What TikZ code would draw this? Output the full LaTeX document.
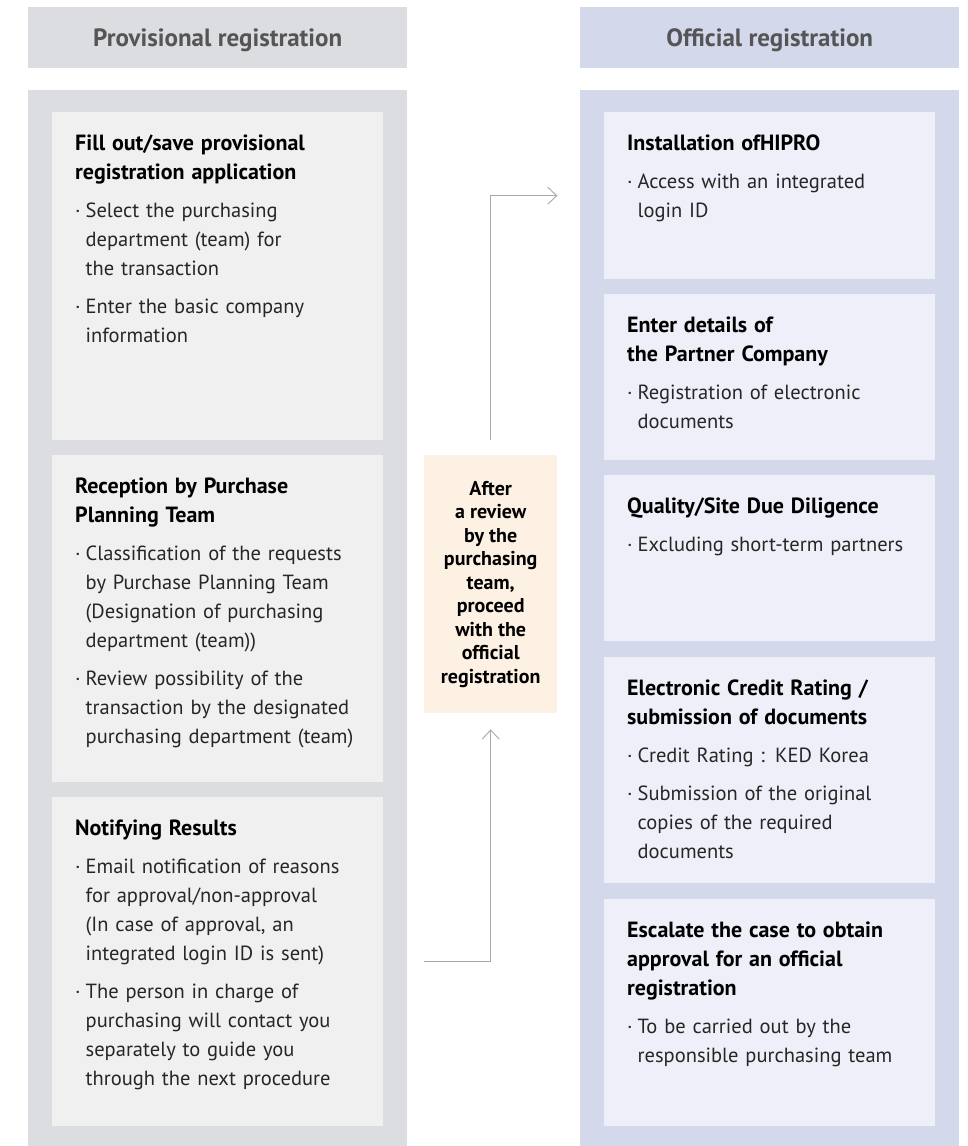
\documentclass[tikz,border=0pt]{standalone}
\usepackage{fontspec}
\setmainfont{PT Sans}
\usetikzlibrary{arrows.meta,calc}

\definecolor{provpanel}{HTML}{DCDDE0}
\definecolor{provbox}{HTML}{F0F0F0}
\definecolor{offpanel}{HTML}{D3D8EB}
\definecolor{offbox}{HTML}{EEEFF8}
\definecolor{reviewbox}{HTML}{FDF1E3}
\definecolor{headtext}{HTML}{555555}
\definecolor{bodytext}{HTML}{262626}
\definecolor{linkline}{HTML}{A8A8A8}

% a bold step heading, then bullet items with a hanging indent
\newcommand\steptitle[1]{{\bfseries\fontsize{22}{29}\selectfont\color{black}#1\par}}
\newcommand\stepitem[1]{\par\vspace{9pt}\hangindent=10.5pt\hangafter=1\noindent
  \makebox[10.5pt][l]{\textperiodcentered}{\let\\\newline #1}\par}

\tikzset{
  panel/.style={rectangle, inner sep=0pt, anchor=north west, minimum width=379pt},
  head/.style={panel, minimum height=61pt, text=headtext, text depth=0pt,
    font=\bfseries\fontsize{25}{28}\selectfont},
  provbg/.style={fill=provpanel},
  offbg/.style={fill=offpanel},
  stepbox/.style={rectangle, inner sep=0pt, anchor=north west, minimum width=331pt},
  provstep/.style={stepbox, fill=provbox},
  offstep/.style={stepbox, fill=offbox},
  steptext/.style={anchor=base west, inner sep=0pt, text width=305pt, align=left,
    text=bodytext, font=\fontsize{20.5}{29}\selectfont,
    execute at begin node={\setlength{\parskip}{0pt}}},
  reviewnode/.style={rectangle, inner sep=0pt, anchor=north west, fill=reviewbox,
    minimum width=133pt, minimum height=258pt, align=center,
    font=\bfseries\fontsize{20}{23.5}\selectfont},
  link/.style={draw=linkline, line width=0.9pt,
    -{Straight Barb[length=9pt,width=17pt,line width=0.9pt]}}
}

\begin{document}
\begin{tikzpicture}[x=1pt,y=-1pt]
\useasboundingbox (0,0) rectangle (967,1146);

% column headers
\node[head, provbg] (hL) at (28,7) {Provisional registration};
\node[head, offbg]  (hR) at (580,7) {Official registration};

% column panels
\node[panel, provbg, minimum height=1056pt] (pL) at (28,90) {};
\node[panel, offbg,  minimum height=1056pt] (pR) at (580,90) {};

% provisional registration steps
\node[provstep, minimum height=328pt] (L1) at (52,112) {};
\node[provstep, minimum height=327pt] (L2) at (52,455) {};
\node[provstep, minimum height=329pt] (L3) at (52,797) {};

\node[steptext] (L1t) at ($(L1.north west)+(23,38)$) {%
  \steptitle{Fill out/save provisional\\registration application}%
  \stepitem{Select the purchasing\\department (team) for\\the transaction}%
  \stepitem{Enter the basic company\\information}};

\node[steptext] (L2t) at ($(L2.north west)+(23,38)$) {%
  \steptitle{Reception by Purchase\\Planning Team}%
  \stepitem{Classification of the requests\\by Purchase Planning Team\\(Designation of purchasing\\department (team))}%
  \stepitem{Review possibility of the\\transaction by the designated\\purchasing department (team)}};

\node[steptext] (L3t) at ($(L3.north west)+(23,38)$) {%
  \steptitle{Notifying Results}%
  \stepitem{Email notification of reasons\\for approval/non-approval\\(In case of approval, an\\integrated login ID is sent)}%
  \stepitem{The person in charge of\\purchasing will contact you\\separately to guide you\\through the next procedure}};

% official registration steps
\node[offstep, minimum height=167pt] (R1) at (604,112) {};
\node[offstep, minimum height=166pt] (R2) at (604,294) {};
\node[offstep, minimum height=166pt] (R3) at (604,475) {};
\node[offstep, minimum height=226pt] (R4) at (604,657) {};
\node[offstep, minimum height=227pt] (R5) at (604,899) {};

\node[steptext] (R1t) at ($(R1.north west)+(23,38)$) {%
  \steptitle{Installation ofHIPRO}%
  \stepitem{Access with an integrated\\login ID}};

\node[steptext] (R2t) at ($(R2.north west)+(23,38)$) {%
  \steptitle{Enter details of\\the Partner Company}%
  \stepitem{Registration of electronic\\documents}};

\node[steptext] (R3t) at ($(R3.north west)+(23,38)$) {%
  \steptitle{Quality/Site Due Diligence}%
  \stepitem{Excluding short-term partners}};

\node[steptext] (R4t) at ($(R4.north west)+(23,38)$) {%
  \steptitle{Electronic Credit Rating /\\submission of documents}%
  \stepitem{Credit Rating : KED Korea}%
  \stepitem{Submission of the original\\copies of the required\\documents}};

\node[steptext] (R5t) at ($(R5.north west)+(23,38)$) {%
  \steptitle{Escalate the case to obtain\\approval for an official\\registration}%
  \stepitem{To be carried out by the\\responsible purchasing team}};

% review step between the columns
\node[reviewnode] (mid) at (424,455) {After\\a review\\by the\\purchasing\\team,\\proceed\\with the\\official\\registration};

% connectors
\coordinate (inL) at (mid.west |- L3.east);
\coordinate (outR) at (mid.east |- R1.west);
\draw[link] (inL) -| ([yshift=-16pt]mid.south);
\draw[link] ([yshift=15pt]mid.north) |- (outR);
\end{tikzpicture}
\end{document}
